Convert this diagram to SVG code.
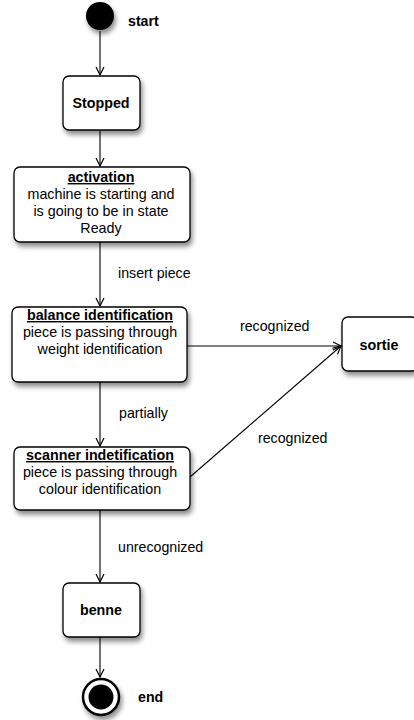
<svg xmlns="http://www.w3.org/2000/svg" width="414" height="720" viewBox="0 0 414 720">
<defs>
<filter id="sh" x="-20%" y="-20%" width="150%" height="160%">
<feGaussianBlur in="SourceAlpha" stdDeviation="2.5"/>
<feOffset dx="2" dy="4" result="b"/>
<feComponentTransfer><feFuncA type="linear" slope="0.45"/></feComponentTransfer>
<feMerge><feMergeNode/><feMergeNode in="SourceGraphic"/></feMerge>
</filter>
<marker id="arr" markerWidth="12" markerHeight="12" refX="9" refY="5" orient="auto" markerUnits="userSpaceOnUse">
<path d="M1,1 L9,5 L1,9" fill="none" stroke="#000" stroke-width="1.2"/>
</marker>
</defs>
<style>
.box{fill:#fff;stroke:#000;stroke-width:1.3}
.t{font-family:"Liberation Sans",Arial,sans-serif;font-size:14.3px;fill:#000;text-anchor:middle}
.b{font-weight:bold}
.u{text-decoration:underline}
.l{font-family:"Liberation Sans",Arial,sans-serif;font-size:14.2px;fill:#000}
.c{fill:none;stroke:#000;stroke-width:1.1}
</style>
<g id="connectors">
<line class="c" x1="100" y1="31" x2="100" y2="75" marker-end="url(#arr)"/>
<line class="c" x1="100" y1="131" x2="100" y2="166" marker-end="url(#arr)"/>
<line class="c" x1="100" y1="242" x2="100" y2="306" marker-end="url(#arr)"/>
<line class="c" x1="187" y1="346" x2="341" y2="346" marker-end="url(#arr)"/>
<line class="c" x1="100" y1="382" x2="100" y2="446" marker-end="url(#arr)"/>
<line class="c" x1="190" y1="477" x2="341" y2="346" marker-end="url(#arr)"/>
<line class="c" x1="100" y1="510" x2="100" y2="582" marker-end="url(#arr)"/>
<line class="c" x1="100" y1="637" x2="100" y2="677" marker-end="url(#arr)"/>
<text class="l" x="118" y="278">insert piece</text>
<text class="l" x="240" y="331">recognized</text>
<text class="l" x="119" y="418">partially</text>
<text class="l" x="258" y="443">recognized</text>
<text class="l" x="118" y="552">unrecognized</text>
</g>
<g id="start">
<circle cx="100" cy="16" r="14" fill="#000" filter="url(#sh)"/>
<text class="l b" x="128" y="26">start</text>
</g>
<g id="stopped">
<rect class="box" x="63" y="76" width="77" height="54" rx="6" filter="url(#sh)"/>
<text class="t b" x="101" y="108">Stopped</text>
</g>
<g id="activation">
<rect class="box" x="14" y="167" width="176" height="75" rx="6" filter="url(#sh)"/>
<text class="t b u" x="101" y="182">activation</text>
<text class="t" x="101" y="199">machine is starting and</text>
<text class="t" x="101" y="216">is going to be in state</text>
<text class="t" x="101" y="233">Ready</text>
</g>
<g id="balance">
<rect class="box" x="12" y="307" width="175" height="75" rx="6" filter="url(#sh)"/>
<text class="t b u" x="100" y="320">balance identification</text>
<text class="t" x="100" y="337">piece is passing through</text>
<text class="t" x="100" y="354">weight identification</text>
</g>
<g id="sortie">
<rect class="box" x="342" y="317" width="76" height="54" rx="6" filter="url(#sh)"/>
<text class="t b" x="379" y="350">sortie</text>
</g>
<g id="scanner">
<rect class="box" x="14" y="447" width="176" height="63" rx="6" filter="url(#sh)"/>
<text class="t b u" x="100" y="460">scanner indetification</text>
<text class="t" x="100" y="477">piece is passing through</text>
<text class="t" x="100" y="494">colour identification</text>
</g>
<g id="benne">
<rect class="box" x="63" y="583" width="77" height="54" rx="6" filter="url(#sh)"/>
<text class="t b" x="101" y="615">benne</text>
</g>
<g id="end">
<circle cx="101" cy="697" r="18" fill="#fff" stroke="#000" stroke-width="2.5" filter="url(#sh)"/>
<circle cx="101" cy="697" r="12.5" fill="#000"/>
<text class="l b" x="138" y="702">end</text>
</g>
</svg>
